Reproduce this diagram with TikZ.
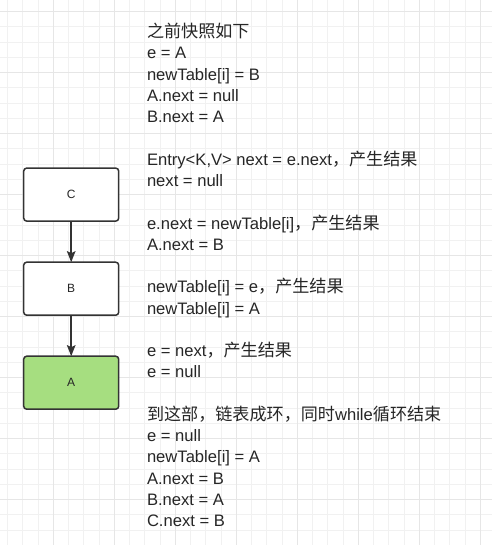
\documentclass[tikz,border=0pt]{standalone}
\usepackage{fontspec}
\setmainfont{Liberation Sans}
\newfontfamily\cjk[Scale=1.03]{Noto Sans CJK SC}
\usepackage{xcolor}
\usepackage{tikz}
\usetikzlibrary{arrows.meta}
\definecolor{linkGray}{HTML}{333333}
\definecolor{nodeGreen}{HTML}{A6DE80}
\definecolor{gridMinor}{HTML}{F1F1F1}
\definecolor{gridMajor}{HTML}{E6E6E6}

\tikzset{
entry/.style={draw=linkGray,line width=1.5pt,rounded corners=3pt,fill=white,
  minimum width=95pt,minimum height=53pt,inner sep=0pt,
  font=\fontsize{12}{14}\selectfont,text=black!85},
link/.style={draw=linkGray,line width=1.6pt,-{Stealth[length=11pt,width=8.5pt,inset=2pt]}},
}

\begin{document}
\begin{tikzpicture}[x=1pt,y=-1pt,outer sep=0pt,inner sep=0pt]
\useasboundingbox[fill=white] (0,0) rectangle (492,545);
% grid
\foreach \i in {0,...,31}
  \draw[gridMinor,line width=1pt] ({7.7+15.25*\i},0) -- ++(0,545);
\foreach \i in {0,...,34}
  \draw[gridMinor,line width=1pt] (0,{11.7+15.25*\i}) -- ++(492,0);
\foreach \k in {0,...,7}
  \draw[gridMajor,line width=1pt] ({53.45+61*\k},0) -- ++(0,545);
\foreach \k in {0,...,8}
  \draw[gridMajor,line width=1pt] (0,{11.7+61*\k}) -- ++(492,0);

% list
\node[entry] (c) at (71.2,194.6) {C};
\node[entry] (b) at (71.2,288.7) {B};
\node[entry,fill=nodeGreen] (a) at (71.2,382.7) {A};
\draw[link] (c) -- (b);
\draw[link] (b) -- (a);

% notes
\node[
anchor=north west,
align=left,
text=black!85,
font=\fontsize{16.6}{21.26}\selectfont,
] (notes) at (147,22.8) {%
\strut{\cjk 之前快照如下}\\
e = A\\
newTable[i] = B\\
A.next = null\\
B.next = A\\
\strut\\
Entry<K,V> next = e.next{\cjk ，产生结果}\\
next = null\\
\strut\\
e.next = newTable[i]{\cjk ，产生结果}\\
A.next = B\\
\strut\\
newTable[i] = e{\cjk ，产生结果}\\
newTable[i] = A\\
\strut\\
e = next{\cjk ，产生结果}\\
e = null\\
\strut\\
{\cjk 到这部，链表成环，同时}while{\cjk 循环结束}\\
e = null\\
newTable[i] = A\\
A.next = B\\
B.next = A\\
C.next = B
};
\end{tikzpicture}
\end{document}
